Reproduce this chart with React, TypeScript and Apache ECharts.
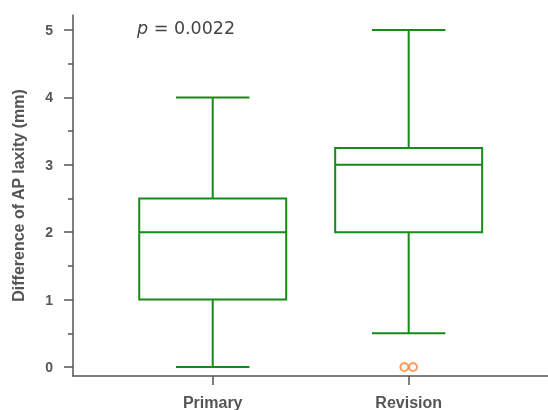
import React, { useEffect, useRef } from "react";
import * as echarts from "echarts";

const categories = ["Primary", "Revision"];
const mins = [0, 0.5];
const q1s = [1, 2];
const medians = [2, 3];
const q3s = [2.5, 3.25];
const maxs = [4, 5];
const outlierGroups = [2, 2];
const outlierValues = [0, 0];
const outlierJitter = [-0.022, 0.022];
const yTicks = [0, 1, 2, 3, 4, 5];
const yMinorTicks = [0.5, 1.5, 2.5, 3.5, 4.5];
const pText = "0.0022";

const GREEN = "#178a17";
const AXIS = "#555555";
const FONT = "Liberation Sans, Arial, sans-serif";

export default function App() {
  const ref = useRef<HTMLDivElement>(null);
  useEffect(() => {
    if (!ref.current) return;
    const chart = echarts.init(ref.current, undefined, { renderer: "svg" });
    const boxData = categories.map((_, i) => [i + 1, mins[i], q1s[i], medians[i], q3s[i], maxs[i]]);
    const outData = outlierGroups.map((g, i) => [g + outlierJitter[i], outlierValues[i]]);
    const boxW = 0.75;
    const capW = 0.375;
    chart.setOption({
      animation: false,
      grid: { left: 73, right: 0, top: 15, bottom: 33 },
      xAxis: {
        type: "value",
        min: 0.287,
        max: 2.711,
        axisLine: { show: true, onZero: false, lineStyle: { color: AXIS, width: 1.5 } },
        axisTick: { show: true, length: 9, customValues: [1, 2], lineStyle: { color: AXIS, width: 1.5 } },
        axisLabel: {
          customValues: [1, 2],
          formatter: (v: number) => categories[Math.round(v) - 1] || "",
          color: AXIS,
          fontFamily: FONT,
          fontWeight: "bold",
          fontSize: 16,
          margin: 18,
        },
        splitLine: { show: false },
      },
      yAxis: [
        {
          type: "value",
          min: -0.133,
          max: 5.222,
          name: "Difference of AP laxity (mm)",
          nameLocation: "middle",
          nameGap: 47,
          nameTextStyle: { color: AXIS, fontFamily: FONT, fontWeight: "bold", fontSize: 16 },
          axisLine: { show: true, onZero: false, lineStyle: { color: AXIS, width: 1.5 } },
          axisTick: { show: true, length: 9, customValues: yTicks, lineStyle: { color: AXIS, width: 1.5 } },
          axisLabel: {
            customValues: yTicks,
            color: AXIS,
            fontFamily: FONT,
            fontWeight: "bold",
            fontSize: 14,
            margin: 20,
          },
          splitLine: { show: false },
        },
        {
          type: "value",
          min: -0.133,
          max: 5.222,
          position: "left",
          offset: 0,
          axisLine: { show: false, onZero: false },
          axisTick: { show: true, length: 5, customValues: yMinorTicks, lineStyle: { color: AXIS, width: 1.5 } },
          axisLabel: { show: false },
          splitLine: { show: false },
        },
      ],
      series: [
        {
          type: "custom",
          data: boxData,
          renderItem: (params: any, api: any) => {
            const x = api.value(0);
            const mn = api.coord([x, api.value(1)]);
            const q1 = api.coord([x, api.value(2)]);
            const md = api.coord([x, api.value(3)]);
            const q3 = api.coord([x, api.value(4)]);
            const mx = api.coord([x, api.value(5)]);
            const bw = api.size([boxW, 0])[0];
            const cw = api.size([capW, 0])[0];
            const cx = q1[0];
            const ls = { stroke: GREEN, lineWidth: 2, fill: "none" };
            return {
              type: "group",
              children: [
                { type: "line", shape: { x1: cx, y1: q3[1], x2: cx, y2: mx[1] }, style: ls },
                { type: "line", shape: { x1: cx, y1: q1[1], x2: cx, y2: mn[1] }, style: ls },
                { type: "line", shape: { x1: cx - cw / 2, y1: mx[1], x2: cx + cw / 2, y2: mx[1] }, style: ls },
                { type: "line", shape: { x1: cx - cw / 2, y1: mn[1], x2: cx + cw / 2, y2: mn[1] }, style: ls },
                {
                  type: "rect",
                  shape: { x: cx - bw / 2, y: q3[1], width: bw, height: q1[1] - q3[1] },
                  style: { stroke: GREEN, lineWidth: 2, fill: "#ffffff" },
                },
                { type: "line", shape: { x1: cx - bw / 2, y1: md[1], x2: cx + bw / 2, y2: md[1] }, style: ls },
              ],
            };
          },
        },
        {
          type: "scatter",
          data: outData,
          symbol: "emptyCircle",
          symbolSize: 8,
          itemStyle: { color: "#f5883a", borderColor: "#f5883a", borderWidth: 1.5 },
          z: 5,
        },
      ],
      graphic: [
        {
          type: "text",
          left: 137,
          top: 19,
          style: {
            text: "{i|p} = " + pText,
            fill: "#444444",
            font: "17.5px 'DejaVu Sans', sans-serif",
            rich: { i: { fontStyle: "italic", fontSize: 17.5, fontFamily: "DejaVu Sans", fill: "#444444" } },
          },
        },
      ],
    });
    return () => chart.dispose();
  }, []);
  return <div ref={ref} style={{ position: "fixed", left: 0, top: 0, width: 548, height: 410 }} />;
}
